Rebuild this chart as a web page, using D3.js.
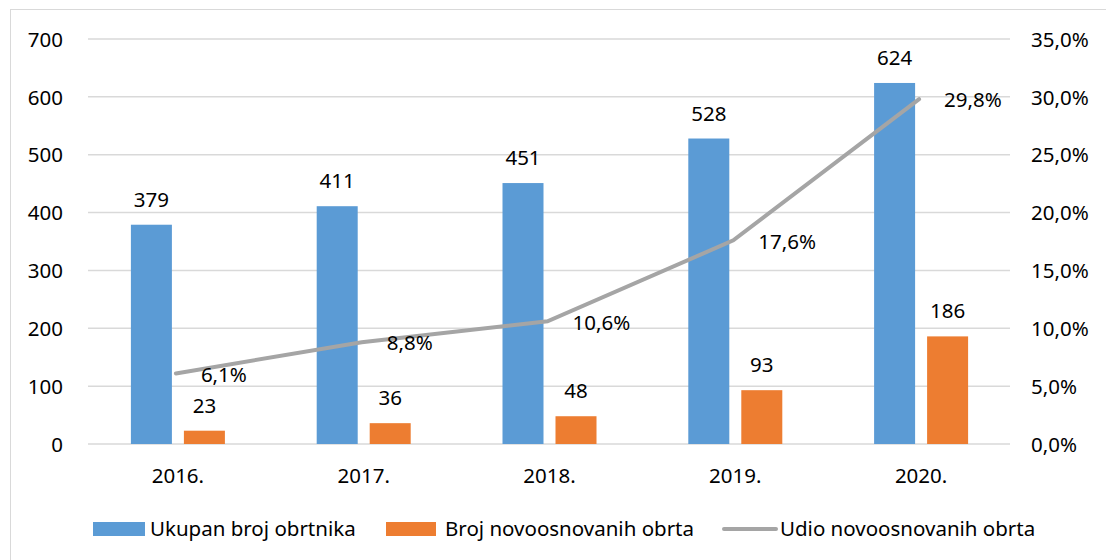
<!DOCTYPE html>
<html>
<head>
<meta charset="utf-8">
<script src="https://cdn.jsdelivr.net/npm/d3@7"></script>
<style>
  body { margin: 0; background: #fff; }
  text { font-family: "Noto Sans", sans-serif; fill: #000; }
</style>
</head>
<body>
<div id="chart"></div>
<script>
const years = ["2016.", "2017.", "2018.", "2019.", "2020."];
const ukupan = [379, 411, 451, 528, 624];
const novi = [23, 36, 48, 93, 186];
const udio = [6.1, 8.8, 10.6, 17.6, 29.8];
const leftTicks = [0, 100, 200, 300, 400, 500, 600, 700];
const rightTicks = [0, 5, 10, 15, 20, 25, 30, 35];
const seriesNames = ["Ukupan broj obrtnika", "Broj novoosnovanih obrta", "Udio novoosnovanih obrta"];

const W = 1106, H = 560;
const plot = { left: 86, right: 1015, top: 39, bottom: 444 };
const colors = { blue: "#5B9BD5", orange: "#ED7D31", gray: "#A5A5A5", grid: "#D9D9D9" };
const fs = "20.5px";

const svg = d3.select("#chart").append("svg")
    .attr("width", W)
    .attr("height", H);

// chart frame
svg.append("rect")
    .attr("x", 10.5).attr("y", 9.5)
    .attr("width", W + 20).attr("height", H + 20)
    .attr("fill", "none")
    .attr("stroke", colors.grid);

const x = d3.scaleBand().domain(years).range([plot.left, plot.right]);
const yL = d3.scaleLinear().domain([0, 700]).range([plot.bottom, plot.top]);
const yR = d3.scaleLinear().domain([0, 35]).range([plot.bottom, plot.top]);
const cx = d => x(d) + x.bandwidth() / 2 - 1;

// gridlines
svg.append("g").selectAll("line")
    .data(leftTicks)
    .join("line")
    .attr("x1", plot.left + 2).attr("x2", plot.right - 5)
    .attr("y1", d => yL(d)).attr("y2", d => yL(d))
    .attr("stroke", colors.grid)
    .attr("stroke-width", 1.5);

// left axis
const axL = svg.append("g")
    .attr("transform", `translate(${plot.left - 23},0)`)
    .call(d3.axisLeft(yL).tickValues(leftTicks).tickSize(0).tickPadding(0));
axL.select(".domain").remove();
axL.selectAll("text").style("font-size", fs).attr("dy", "0.35em");

// right axis
const axR = svg.append("g")
    .attr("transform", `translate(${plot.right + 16},0)`)
    .call(d3.axisRight(yR).tickValues(rightTicks).tickSize(0).tickPadding(0)
        .tickFormat(d => d3.format(".1f")(d).replace(".", ",") + "%"));
axR.select(".domain").remove();
axR.selectAll("text").style("font-size", fs).attr("dy", "0.35em");

// x axis labels
svg.append("g").selectAll("text")
    .data(years)
    .join("text")
    .attr("x", d => cx(d))
    .attr("y", plot.bottom + 39)
    .attr("text-anchor", "middle")
    .style("font-size", fs)
    .text(d => d);

const barW = 41, gap = 12;
const blueX = d => cx(d) - gap / 2 - barW;
const orangeX = d => cx(d) + gap / 2;

// bars
svg.append("g").selectAll("rect")
    .data(years)
    .join("rect")
    .attr("x", (d) => blueX(d))
    .attr("y", (d, i) => yL(ukupan[i]))
    .attr("width", barW)
    .attr("height", (d, i) => plot.bottom - yL(ukupan[i]))
    .attr("fill", colors.blue);

svg.append("g").selectAll("rect")
    .data(years)
    .join("rect")
    .attr("x", (d) => orangeX(d))
    .attr("y", (d, i) => yL(novi[i]))
    .attr("width", barW)
    .attr("height", (d, i) => plot.bottom - yL(novi[i]))
    .attr("fill", colors.orange);

// bar labels
svg.append("g").selectAll("text")
    .data(years)
    .join("text")
    .attr("x", d => blueX(d) + barW / 2)
    .attr("y", (d, i) => yL(ukupan[i]) - 18)
    .attr("text-anchor", "middle")
    .style("font-size", fs)
    .text((d, i) => ukupan[i]);

svg.append("g").selectAll("text")
    .data(years)
    .join("text")
    .attr("x", d => orangeX(d) + barW / 2)
    .attr("y", (d, i) => yL(novi[i]) - 18)
    .attr("text-anchor", "middle")
    .style("font-size", fs)
    .text((d, i) => novi[i]);

// share line
const line = d3.line()
    .x((d, i) => cx(years[i]) - 2)
    .y(d => yR(d));

svg.append("path")
    .datum(udio)
    .attr("d", line)
    .attr("fill", "none")
    .attr("stroke", colors.gray)
    .attr("stroke-width", 4)
    .attr("stroke-linecap", "round");

svg.append("g").selectAll("text")
    .data(udio)
    .join("text")
    .attr("x", (d, i) => cx(years[i]) + 23)
    .attr("y", d => yR(d) + 1)
    .attr("dy", "0.35em")
    .style("font-size", fs)
    .text(d => d3.format(".1f")(d).replace(".", ",") + "%");

// legend
const legend = svg.append("g");
legend.append("rect").attr("x", 93).attr("y", 522).attr("width", 52).attr("height", 14).attr("fill", colors.blue);
legend.append("text").attr("x", 150).attr("y", 529).attr("dy", "0.35em").style("font-size", fs).text(seriesNames[0]);
legend.append("rect").attr("x", 386).attr("y", 522).attr("width", 50).attr("height", 14).attr("fill", colors.orange);
legend.append("text").attr("x", 445).attr("y", 529).attr("dy", "0.35em").style("font-size", fs).text(seriesNames[1]);
legend.append("line").attr("x1", 724).attr("x2", 776).attr("y1", 529).attr("y2", 529)
    .attr("stroke", colors.gray).attr("stroke-width", 4).attr("stroke-linecap", "round");
legend.append("text").attr("x", 780).attr("y", 529).attr("dy", "0.35em").style("font-size", fs).text(seriesNames[2]);
</script>
</body>
</html>
